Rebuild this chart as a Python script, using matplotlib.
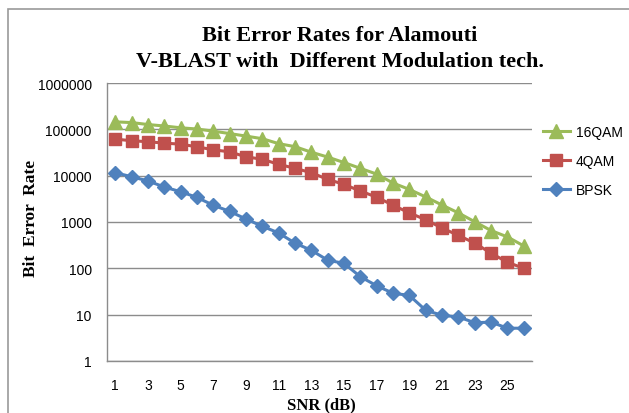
from matplotlib import pyplot as plt
from matplotlib.patches import Rectangle

import numpy as np

# SNR values (dB) - category axis 1..26
snr = list(range(1, 27))

bpsk = [11600, 9500, 7700, 5700, 4500, 3400, 2300, 1700, 1160, 810,
        580, 350, 245, 150, 128, 66, 42, 29, 26, 12.4,
        9.7, 8.9, 6.7, 6.9, 5.1, 5.1]

qam4 = [61500, 56800, 54000, 50400, 47900, 42000, 36200, 32700, 25500, 22600,
        17600, 14400, 11600, 8300, 6500, 4650, 3440, 2300, 1570, 1120,
        740, 514, 349, 212, 135, 100]

qam16 = [145000, 140000, 127000, 118000, 108000, 101600, 91400, 81100, 71500, 62800,
         49100, 42300, 32100, 25200, 19200, 14400, 10800, 6930, 5040, 3470,
         2320, 1570, 1010, 653, 476, 304]

yticks = [1, 10, 100, 1000, 10000, 100000, 1000000]
xticks = list(range(1, 26, 2))

W, H = 629, 414
fig = plt.figure(figsize=(W / 100, H / 100), dpi=100)
ax = fig.add_axes([107 / W, 1 - 362 / H, (532 - 107) / W, (362 - 84) / H])

# outer chart frame (runs off the right and bottom of the picture)
fig.patches.append(Rectangle((8 / W, -0.05), 1.0, 1.05 - 10 / H,
                             transform=fig.transFigure, fill=False,
                             edgecolor='#9a9a9a', linewidth=1.2))

ax.plot(snr, qam16, color='#9BBB59', marker='^', markersize=9.5, linewidth=2.2, label='16QAM')
ax.plot(snr, qam4, color='#C0504D', marker='s', markersize=8, linewidth=2.2, label='4QAM')
ax.plot(snr, bpsk, color='#4F81BD', marker='D', markersize=7, linewidth=2.2, label='BPSK')

ax.set_yscale('log')
ax.set_ylim(1, 1000000)
ax.set_xlim(0.5, 26.5)
ax.set_yticks(yticks)
ax.set_yticklabels([str(v) for v in yticks])
ax.minorticks_off()
ax.set_xticks(xticks)
ax.set_xticklabels([str(v) for v in xticks])
ax.tick_params(axis='both', length=0, labelsize=10, colors='black')
ax.tick_params(axis='y', pad=11)
ax.tick_params(axis='x', pad=12)
for lab in ax.get_xticklabels() + ax.get_yticklabels():
    lab.set_fontfamily('Liberation Sans')

ax.grid(axis='y', color='#8c8c8c', linewidth=1)
ax.set_axisbelow(True)
for side in ['top', 'right']:
    ax.spines[side].set_visible(False)
for side in ['left', 'bottom']:
    ax.spines[side].set_color('#8c8c8c')
    ax.spines[side].set_linewidth(1)

fig.text(340 / W, 1 - 49 / H, "Bit Error Rates for Alamouti\nV-BLAST with  Different Modulation tech.",
         ha='center', va='center', fontsize=16, fontweight='bold',
         family='Liberation Serif', linespacing=1.45)
fig.text(321 / W, 1 - 405 / H, "SNR (dB)", ha='center', va='center',
         fontsize=12, fontweight='bold', family='Liberation Serif')
fig.text(31 / W, 1 - 218 / H, "Bit  Error  Rate", ha='center', va='center', rotation=90,
         fontsize=12.5, fontweight='bold', family='Liberation Serif')

leg = ax.legend(loc='upper left', bbox_to_anchor=(530 / W, 1 - 113 / H),
                bbox_transform=fig.transFigure, frameon=False,
                prop={'family': 'Liberation Sans', 'size': 10},
                handlelength=2.0, handletextpad=0.4, labelspacing=1.1)

fig.savefig('out.png', dpi=100)
